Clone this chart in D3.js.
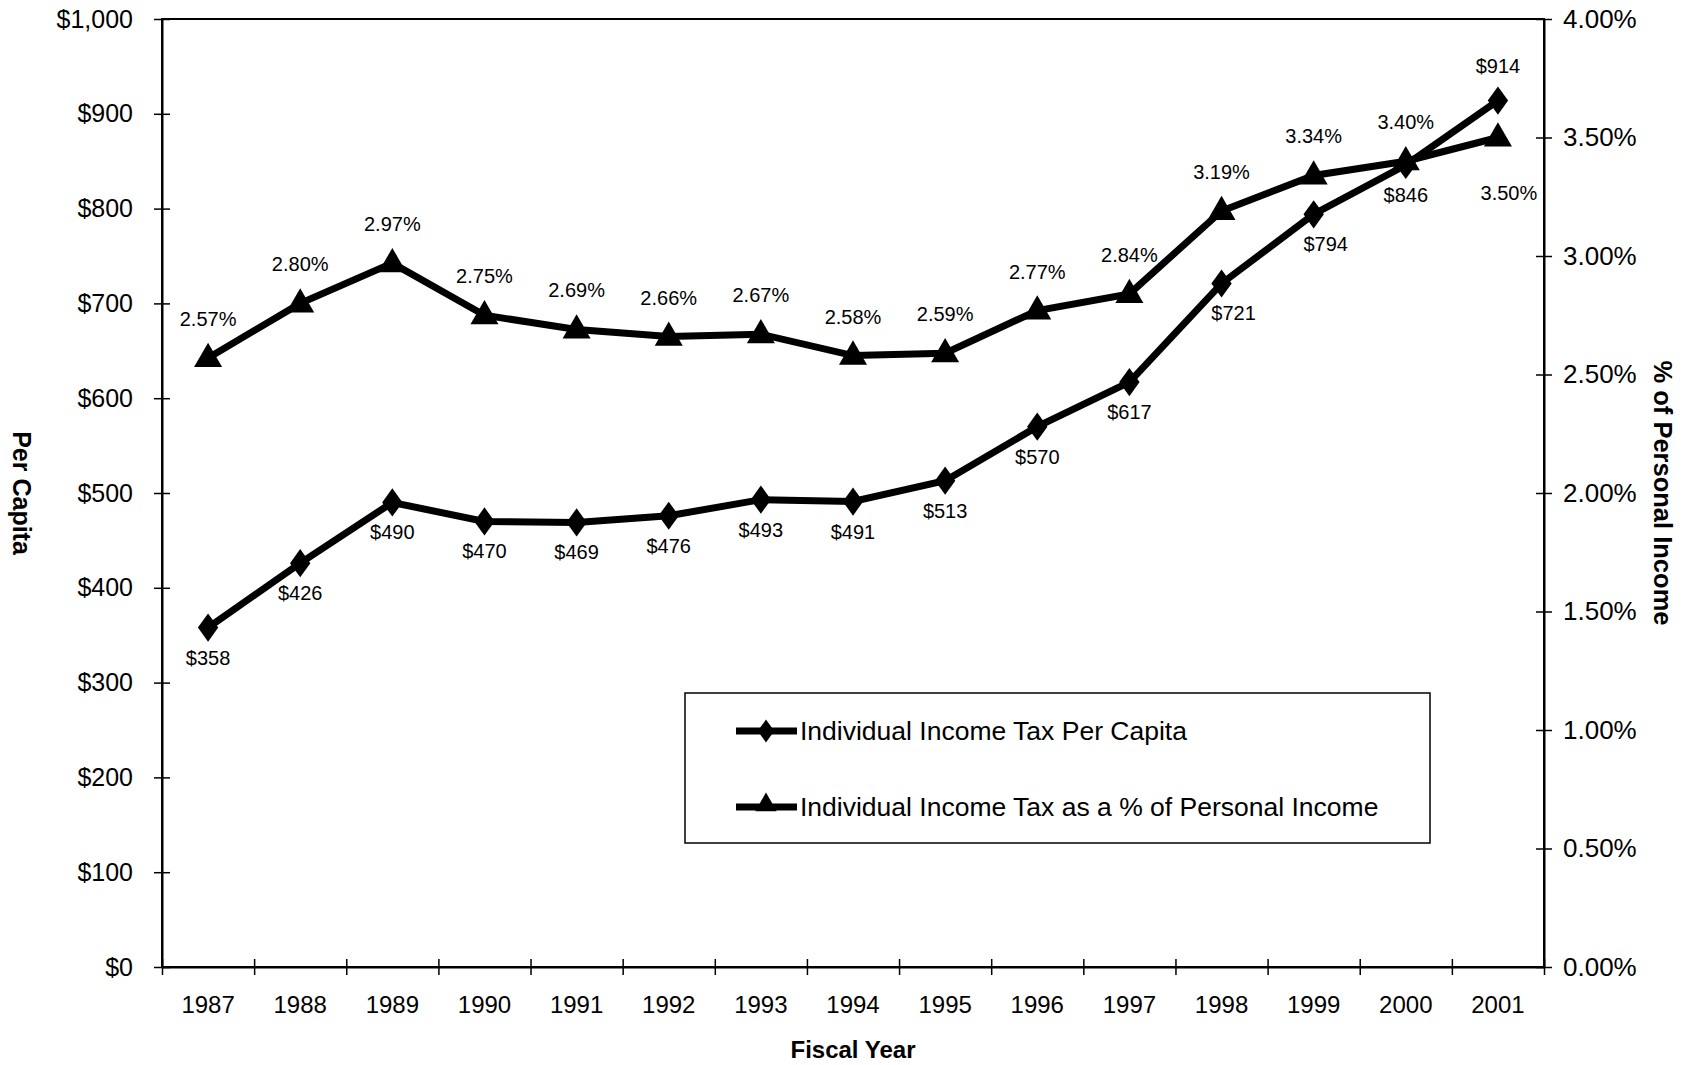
<!DOCTYPE html>
<html>
<head>
<meta charset="utf-8">
<script src="https://cdn.jsdelivr.net/npm/d3@7"></script>
<style>
  body { margin: 0; background: #fff; }
  svg { font-family: "Liberation Sans", Arial, sans-serif; }
</style>
</head>
<body>
<div id="chart"></div>
<script>
let years = ["1987","1988","1989","1990","1991","1992","1993","1994","1995","1996","1997","1998","1999","2000","2001"];
let perCapita = [358, 426, 490, 470, 469, 476, 493, 491, 513, 570, 617, 721, 794, 846, 914];
let pctIncome = [2.57, 2.80, 2.97, 2.75, 2.69, 2.66, 2.67, 2.58, 2.59, 2.77, 2.84, 3.19, 3.34, 3.40, 3.50];
let leftTicks = [0, 100, 200, 300, 400, 500, 600, 700, 800, 900, 1000];
let rightTicks = [0, 0.5, 1, 1.5, 2, 2.5, 3, 3.5, 4];
let seriesNames = ["Individual Income Tax Per Capita", "Individual Income Tax as a % of Personal Income"];

let w = 1684;
let h = 1065;
let m = {top: 19, right: 140, bottom: 98, left: 162};
let iw = w - m.left - m.right;
let ih = h - m.top - m.bottom;

let svg = d3.select("#chart")
    .append("svg")
    .attr("width", w)
    .attr("height", h);

svg.append("rect").attr("width", w).attr("height", h).attr("fill", "#fff");

let g = svg.append("g")
    .attr("transform", "translate(" + m.left + "," + m.top + ")");

let x = d3.scaleBand().domain(years).range([0, iw]);
let yL = d3.scaleLinear().domain([0, 1000]).range([ih, 0]);
let yR = d3.scaleLinear().domain([0, 4]).range([ih, 0]);
let xb = d3.scaleLinear().domain([0, years.length]).range([0, iw]);

// plot frame
g.append("rect")
    .attr("width", iw).attr("height", ih)
    .attr("fill", "none").attr("stroke", "#000").attr("stroke-width", 2);

// left axis
let axL = g.append("g")
    .call(d3.axisLeft(yL).tickValues(leftTicks).tickSize(8).tickSizeOuter(0)
        .tickFormat(d => "$" + d3.format(",")(d)));
axL.select(".domain").attr("stroke-width", 2);
axL.selectAll(".tick line").attr("x2", 8).attr("x1", -8).attr("stroke-width", 1.5);
axL.selectAll(".tick text").attr("x", -29).attr("font-size", 25).attr("fill", "#000");

// right axis
let axR = g.append("g")
    .attr("transform", "translate(" + iw + ",0)")
    .call(d3.axisRight(yR).tickValues(rightTicks).tickSize(8).tickSizeOuter(0)
        .tickFormat(d => d3.format(".2f")(d) + "%"));
axR.select(".domain").attr("stroke-width", 2);
axR.selectAll(".tick line").attr("x1", -8).attr("x2", 8).attr("stroke-width", 1.5);
axR.selectAll(".tick text").attr("x", 19).attr("font-size", 26).attr("fill", "#000");

// bottom axis: tick marks at category boundaries, labels at centres
let axB = g.append("g")
    .attr("transform", "translate(0," + ih + ")")
    .call(d3.axisBottom(xb).ticks(years.length).tickSize(8).tickSizeOuter(0).tickFormat(""));
axB.select(".domain").attr("stroke-width", 2);
axB.selectAll(".tick line").attr("y1", -8).attr("y2", 8).attr("stroke-width", 1.5);

let axBL = g.append("g")
    .attr("transform", "translate(0," + ih + ")")
    .call(d3.axisBottom(x).tickSize(0));
axBL.select(".domain").remove();
axBL.selectAll(".tick text").attr("y", 29).attr("font-size", 24).attr("fill", "#000");

// axis titles
svg.append("text")
    .attr("transform", "translate(22," + (m.top + ih / 2) + ") rotate(90)")
    .attr("text-anchor", "middle").attr("dy", "0.35em")
    .attr("font-size", 25).attr("font-weight", "bold")
    .text("Per Capita");

svg.append("text")
    .attr("transform", "translate(1663," + (m.top + ih / 2) + ") rotate(90)")
    .attr("text-anchor", "middle").attr("dy", "0.35em")
    .attr("font-size", 25.5).attr("font-weight", "bold")
    .text("% of Personal Income");

svg.append("text")
    .attr("x", m.left + iw / 2).attr("y", 1058)
    .attr("text-anchor", "middle")
    .attr("font-size", 24).attr("font-weight", "bold")
    .text("Fiscal Year");

let cx = (d, i) => x(years[i]) + x.bandwidth() / 2;

let lineL = d3.line().x(cx).y(d => yL(d));
let lineR = d3.line().x(cx).y(d => yR(d));

g.append("path").datum(pctIncome)
    .attr("d", lineR).attr("fill", "none").attr("stroke", "#000").attr("stroke-width", 7);
g.append("path").datum(perCapita)
    .attr("d", lineL).attr("fill", "none").attr("stroke", "#000").attr("stroke-width", 7);

let tri = d3.symbol().type(d3.symbolTriangle).size(340);
let dia = d3.symbol().type(d3.symbolDiamond).size(230);

g.selectAll(".tri")
    .data(pctIncome).enter()
    .append("path")
    .attr("class", "tri")
    .attr("d", tri)
    .attr("transform", (d, i) => "translate(" + cx(d, i) + "," + (yR(d) + 1) + ")")
    .attr("fill", "#000");

g.selectAll(".dia")
    .data(perCapita).enter()
    .append("path")
    .attr("class", "dia")
    .attr("d", dia)
    .attr("transform", (d, i) => "translate(" + cx(d, i) + "," + yL(d) + ") scale(1.25,1)")
    .attr("fill", "#000");

// data labels
g.selectAll(".lblR")
    .data(pctIncome).enter()
    .append("text")
    .attr("x", (d, i) => cx(d, i) + (i === years.length - 1 ? 11 : 0))
    .attr("y", (d, i) => yR(d) + (i === years.length - 1 ? 55 : -39))
    .attr("dy", "0.35em")
    .attr("text-anchor", "middle")
    .attr("font-size", 20)
    .text(d => d.toFixed(2) + "%");

g.selectAll(".lblL")
    .data(perCapita).enter()
    .append("text")
    .attr("x", (d, i) => cx(d, i) + (i >= 11 && i <= 12 ? 12 : 0))
    .attr("y", (d, i) => yL(d) + (i === years.length - 1 ? -35 : 30))
    .attr("dy", "0.35em")
    .attr("text-anchor", "middle")
    .attr("font-size", 20)
    .text(d => "$" + d);

// legend
let legend = svg.append("g").attr("transform", "translate(685,693)");
legend.append("rect")
    .attr("width", 745).attr("height", 150)
    .attr("fill", "#fff").attr("stroke", "#000").attr("stroke-width", 1.5);

let items = legend.selectAll(".item")
    .data(seriesNames).enter()
    .append("g")
    .attr("transform", (d, i) => "translate(0," + (38 + i * 76) + ")");

items.append("line")
    .attr("x1", 51).attr("x2", 112)
    .attr("stroke", "#000").attr("stroke-width", 7);

items.append("path")
    .attr("d", (d, i) => i === 0
        ? d3.symbol().type(d3.symbolDiamond).size(150)()
        : d3.symbol().type(d3.symbolTriangle).size(200)())
    .attr("transform", (d, i) => "translate(81," + (i === 0 ? 0 : -2) + ")" + (i === 0 ? " scale(1.25,1)" : ""))
    .attr("fill", "#000");

items.append("text")
    .attr("x", 115).attr("dy", "0.35em")
    .attr("font-size", 26.5)
    .text(d => d);
</script>
</body>
</html>
